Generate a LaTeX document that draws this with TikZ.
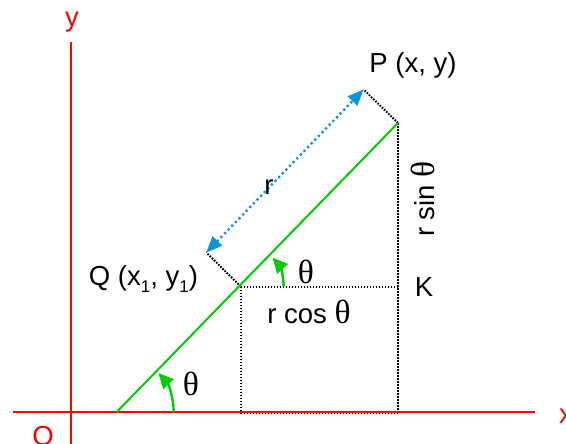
\documentclass[tikz,border=0pt]{standalone}
\usepackage{fontspec}
\setmainfont{Liberation Sans}
\newfontfamily\serifgreek[Scale=1.22]{Liberation Serif}
\usetikzlibrary{arrows.meta,calc}
\newcommand{\thx}{{\serifgreek θ}}
\newcommand{\subone}{\raisebox{-0.45ex}{\fontsize{17}{17}\selectfont 1}}
\begin{document}
\begin{tikzpicture}[x=1pt,y=-1pt,
  axisline/.style={draw=red, line width=2pt},
  mainline/.style={draw=green!80!black, line width=2pt},
  dots/.style={draw=black, line width=2pt, dash pattern=on 1.6pt off 1.4pt},
  bluedots/.style={draw=cyan!80!blue, line width=2.4pt, dash pattern=on 2.2pt off 3pt,
     {Triangle[length=16pt,width=13pt]}-{Triangle[length=16pt,width=13pt]}},
  anglearc/.style={draw=green!80!black, line width=2.4pt, -{Triangle[length=15pt,width=14pt]}},
  lbl/.style={font=\fontsize{27.5}{30}\selectfont, inner sep=0pt},
  redlbl/.style={lbl, text=red}]
\useasboundingbox (0,0) rectangle (566,444);
\fill[white] (0,0) rectangle (566,444);
% points
\coordinate (ytop) at (71,42);
\coordinate (ybot) at (71,446);
\coordinate (xl) at (13,412);
\coordinate (xr) at (535,412);
\coordinate (A) at (116.7,412);
\coordinate (P) at (398,123);
\coordinate (Q) at (240.7,286.5);
\coordinate (K) at (398,286.5);
\coordinate (B) at (398,413);
\coordinate (C) at (240.7,413);
\coordinate (Pp) at (363.6,89.5);
\coordinate (Qp) at (206.3,252.5);
% dotted construction
\draw[dots] (P) -- (B);
\draw[dots] (Q) -- (K);
\draw[dots] (Q) -- (C);
\draw[dots] (C) -- (B);
\draw[dots] (P) -- (Pp);
\draw[dots] (Q) -- (Qp);
% axes
\draw[axisline] (ytop) -- (ybot);
\draw[axisline] (xl) -- (xr);
% main line
\draw[mainline] (A) -- (P);
% distance arrow
\draw[bluedots] (Qp) -- (Pp);
% angle arcs
\draw[anglearc] ($(A)+(57,0)$) arc[start angle=0, end angle=-43, radius=57];
\draw[anglearc] ($(Q)+(43,0)$) arc[start angle=0, end angle=-42, radius=43];
% labels
\node[lbl] (lP) at (413,65) {P (x, y)};
\node[lbl] (lQ) at (143.5,279) {Q (x\subone, y\subone)};
\node[lbl] (lr) at (269,187) {r};
\node[lbl, rotate=90] (lrsin) at (423,199) {r sin \thx};
\node[lbl] (lK) at (424,287.5) {K};
\node[lbl] (lrcos) at (309,312) {r cos \thx};
\node[lbl] (lth1) at (191,384) {\thx};
\node[lbl] (lth2) at (306,272) {\thx};
\node[redlbl] (ly) at (72,22) {y};
\node[redlbl] (lO) at (43,436) {O};
\node[redlbl] (lx) at (566,416) {x};
\end{tikzpicture}
\end{document}
